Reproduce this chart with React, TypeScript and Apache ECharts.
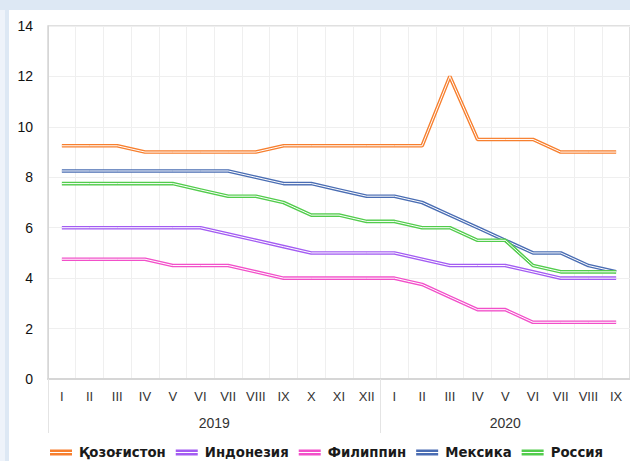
import React, { useEffect, useRef } from "react";
import * as echarts from "echarts";

const years = ["2019", "2020"];
const monthsPerYear = [12, 9];
const romanMonths = ["I", "II", "III", "IV", "V", "VI", "VII", "VIII", "IX", "X", "XI", "XII"];

const seriesNames = ["Қозоғистон", "Индонезия", "Филиппин", "Мексика", "Россия"];
const seriesColors = ["#f77f2e", "#a35cf2", "#f24fc9", "#4a6db3", "#52cc4c"];

const kazakhstan = [9.25, 9.25, 9.25, 9.0, 9.0, 9.0, 9.0, 9.0, 9.25, 9.25, 9.25, 9.25, 9.25, 9.25, 12.0, 9.5, 9.5, 9.5, 9.0, 9.0, 9.0];
const indonesia = [6.0, 6.0, 6.0, 6.0, 6.0, 6.0, 5.75, 5.5, 5.25, 5.0, 5.0, 5.0, 5.0, 4.75, 4.5, 4.5, 4.5, 4.25, 4.0, 4.0, 4.0];
const philippines = [4.75, 4.75, 4.75, 4.75, 4.5, 4.5, 4.5, 4.25, 4.0, 4.0, 4.0, 4.0, 4.0, 3.75, 3.25, 2.75, 2.75, 2.25, 2.25, 2.25, 2.25];
const mexico = [8.25, 8.25, 8.25, 8.25, 8.25, 8.25, 8.25, 8.0, 7.75, 7.75, 7.5, 7.25, 7.25, 7.0, 6.5, 6.0, 5.5, 5.0, 5.0, 4.5, 4.25];
const russia = [7.75, 7.75, 7.75, 7.75, 7.75, 7.5, 7.25, 7.25, 7.0, 6.5, 6.5, 6.25, 6.25, 6.0, 6.0, 5.5, 5.5, 4.5, 4.25, 4.25, 4.25];

const seriesValues = [kazakhstan, indonesia, philippines, mexico, russia];

export default function App() {
  const ref = useRef<HTMLDivElement>(null);

  useEffect(() => {
    if (!ref.current) return;
    const chart = echarts.init(ref.current, null, { renderer: "svg" });

    const categories: string[] = [];
    years.forEach((y, yi) => {
      for (let m = 0; m < monthsPerYear[yi]; m++) categories.push(y + "-" + romanMonths[m]);
    });
    const total = categories.length;
    const yearBounds: number[] = [0];
    const yearCenters: number[] = [];
    let acc = 0;
    monthsPerYear.forEach((n) => {
      yearCenters.push(acc + n / 2);
      acc += n;
      yearBounds.push(acc);
    });

    const series: any[] = [];
    seriesNames.forEach((name, i) => {
      series.push({
        name,
        type: "line",
        data: seriesValues[i],
        symbol: "none",
        color: seriesColors[i],
        lineStyle: { width: 3.6, color: seriesColors[i] },
        z: 2,
      });
      series.push({
        name: name + "_inner",
        type: "line",
        data: seriesValues[i],
        symbol: "none",
        color: "#ffffff",
        lineStyle: { width: 1, color: "#ffffff" },
        silent: true,
        z: 2,
      });
    });

    chart.setOption({
      animation: false,
      textStyle: { fontFamily: "'Liberation Sans', Arial, sans-serif" },
      graphic: [
        { type: "rect", shape: { x: 0, y: 10, width: 5, height: 451 }, style: { fill: "#eef3fa" }, z: -10, silent: true },
        { type: "rect", shape: { x: 9, y: 10, width: 621, height: 451 }, style: { fill: "#ffffff" }, z: -10, silent: true },
      ],
      grid: {
        left: 48,
        top: 26,
        width: 584,
        bottom: 82,
        show: true,
        borderColor: "#d6d6d6",
        borderWidth: 1.5,
      },
      legend: {
        data: seriesNames,
        top: 441,
        left: 45,
        itemWidth: 22,
        itemHeight: 6,
        itemGap: 10,
        icon: "path://M0,0H22V2.4H0Z M0,3.6H22V6H0Z",
        textStyle: {
          fontSize: 13.3,
          fontWeight: "bold",
          color: "#1a1a1a",
          fontFamily: "'DejaVu Sans', Verdana, sans-serif",
          padding: [0, 0, 0, 2],
        },
      },
      xAxis: [
        {
          type: "category",
          data: categories,
          boundaryGap: true,
          axisLine: { show: true, lineStyle: { color: "#d6d6d6", width: 2 } },
          axisTick: { show: false },
          splitLine: { show: true, lineStyle: { color: "#efefef", width: 1 } },
          axisLabel: {
            interval: 0,
            fontSize: 13,
            color: "#333",
            margin: 11,
            formatter: (v: string) => v.split("-")[1],
          },
        },
        {
          type: "value",
          min: 0,
          max: total,
          position: "bottom",
          axisLine: { show: false },
          splitLine: { show: false },
          axisTick: {
            show: true,
            customValues: yearBounds,
            length: 54,
            lineStyle: { color: "#e4e4e4", width: 1 },
          },
          axisLabel: {
            show: true,
            customValues: yearCenters,
            margin: 37,
            fontSize: 14,
            color: "#333",
            formatter: (v: number) => {
              const idx = yearCenters.findIndex((c) => Math.abs(c - v) < 1e-6);
              return idx >= 0 ? years[idx] : "";
            },
          },
        },
      ],
      yAxis: {
        type: "value",
        min: 0,
        max: 14,
        interval: 2,
        axisLine: { show: true, lineStyle: { color: "#d6d6d6", width: 1 } },
        axisTick: { show: false },
        splitLine: { show: true, lineStyle: { color: "#efefef", width: 1 } },
        axisLabel: { fontSize: 14, color: "#111", margin: 15 },
      },
      series,
    });

    return () => chart.dispose();
  }, []);

  return (
    <div
      style={{ position: "fixed", left: 0, top: 0, width: 630, height: 461, background: "#dde8f4" }}
    >
      <div ref={ref} style={{ width: 630, height: 461 }} />
    </div>
  );
}
